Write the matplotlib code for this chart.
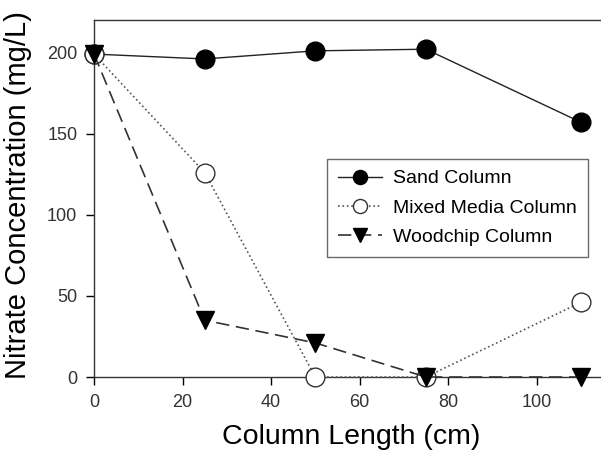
import matplotlib
matplotlib.use("Agg")
import matplotlib.pyplot as plt

plt.rcParams['font.family'] = ['Liberation Sans', 'DejaVu Sans']

length = [0, 25, 50, 75, 110]
sand = [199, 196, 201, 202, 157]
mixed = [199, 126, 0, 0, 46]
woodchip = [199, 35, 21, 0, 0]
xticks = [0, 20, 40, 60, 80, 100]
yticks = [0, 50, 100, 150, 200]

fig = plt.figure(figsize=(6.01, 4.51), dpi=100)
ax = fig.add_axes([94/601, 74/451, 509/601, 357/451])

ax.plot(length, sand, '-', color='#222222', lw=1, marker='o', ms=13.5,
        mfc='black', mec='black', label='Sand Column', clip_on=False, zorder=3)
ax.plot(length, mixed, ':', color='#555555', lw=1.2, marker='o', ms=13.5,
        mfc='white', mec='#333333', mew=1, label='Mixed Media Column', clip_on=False, zorder=4)
ax.plot(length, woodchip, '--', color='#333333', lw=1.2, dashes=(8, 4), marker='v', ms=13.5,
        mfc='black', mec='black', label='Woodchip Column', clip_on=False, zorder=5)

ax.set_xlim(0, 115)
ax.set_ylim(0, 220)
ax.set_xticks(xticks)
ax.set_yticks(yticks)
ax.tick_params(direction='out', length=6, width=1, labelsize=13, labelcolor='#333333', pad=6)
ax.set_xlabel('Column Length (cm)', fontsize=20.5)
ax.set_ylabel('Nitrate Concentration (mg/L)', fontsize=21)
ax.xaxis.set_label_coords(0.505, -0.133)
ax.yaxis.set_label_coords(-0.122, 0.51)
ax.spines['right'].set_visible(False)
for s in ax.spines.values():
    s.set_linewidth(1)
    s.set_color('#333333')

leg = ax.legend(loc='upper left', bbox_to_anchor=(233/509, 218/357), fontsize=14,
                frameon=True, fancybox=False, edgecolor='#444444', handlelength=2.3,
                borderpad=0.55, labelspacing=0.6, handletextpad=0.55, borderaxespad=0,
                markerscale=0.75)
leg.get_frame().set_linewidth(1)

fig.savefig('out.png', dpi=100)
